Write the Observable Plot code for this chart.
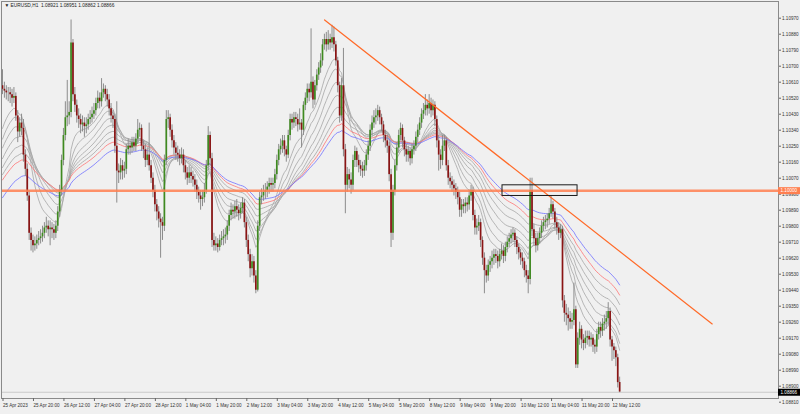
<!DOCTYPE html>
<html><head><meta charset="utf-8">
<script src="https://cdn.jsdelivr.net/npm/d3@7"></script>
<script src="https://cdn.jsdelivr.net/npm/@observablehq/plot@0.6"></script>
<style>
html,body{margin:0;padding:0;background:#f0f0f0;}
#chart{width:800px;height:414px;}
</style></head><body><div id="chart"></div>
<script>
// ---- data ----
const titleText = "\u25BC EURUSD,H1  1.08921 1.08951 1.08862 1.08866";
const firstOpen = 1.1059;
const lastOpen = 1.08921;
const closes = [
1.1057,1.1056,1.1055,1.1055,1.1054,1.1052,1.1053,1.1042,1.1033,1.1038,
1.1035,1.1020,1.1012,1.0997,1.0976,1.0972,1.0969,1.0970,1.0972,1.0973,
1.0974,1.0976,1.0979,1.0980,1.0978,1.0979,1.0978,1.0976,1.0980,1.0988,
1.1000,1.1017,1.1031,1.1041,1.1042,1.1044,1.1083,1.1054,1.1048,1.1042,
1.1040,1.1037,1.1038,1.1036,1.1037,1.1040,1.1041,1.1043,1.1045,1.1049,
1.1052,1.1050,1.1055,1.1057,1.1054,1.1051,1.1046,1.1042,1.1040,1.1025,
1.1011,1.1010,1.1014,1.1011,1.1012,1.1023,1.1025,1.1024,1.1027,1.1025,
1.1029,1.1034,1.1035,1.1025,1.1023,1.1017,1.1020,1.1014,1.1007,1.1000,
1.0992,1.0988,1.0984,1.0982,1.0980,1.1017,1.1040,1.1041,1.1034,1.1028,
1.1024,1.1021,1.1020,1.1018,1.1020,1.1014,1.1010,1.1007,1.1010,1.1008,
1.1006,1.1003,1.0999,1.0997,1.0995,1.0996,1.1000,1.1014,1.1031,1.1018,
1.0972,1.0969,1.0970,1.0968,1.0972,1.0973,1.0974,1.0975,1.0980,1.0986,
1.0989,1.0988,1.0991,1.0989,1.0987,1.0990,1.0993,1.0982,1.0972,1.0964,
1.0956,1.0960,1.0952,1.0944,1.0980,1.0996,1.0997,1.0999,1.1000,1.1002,
1.1004,1.1003,1.1004,1.1009,1.1017,1.1023,1.1025,1.1028,1.1023,1.1020,
1.1031,1.1040,1.1038,1.1041,1.1040,1.1037,1.1038,1.1034,1.1048,1.1052,
1.1057,1.1055,1.1061,1.1051,1.1059,1.1065,1.1069,1.1073,1.1082,1.1085,
1.1082,1.1085,1.1083,1.1086,1.1082,1.1073,1.1059,1.1042,1.1059,1.1023,
1.1003,1.1009,1.1006,1.1003,1.1017,1.1022,1.1017,1.1014,1.1012,1.1011,
1.1014,1.1020,1.1025,1.1034,1.1038,1.1041,1.1042,1.1045,1.1041,1.1037,
1.1031,1.1028,1.1025,1.1009,1.0976,1.1000,1.1014,1.1024,1.1031,1.1035,
1.1028,1.1023,1.1020,1.1022,1.1018,1.1023,1.1025,1.1030,1.1034,1.1038,
1.1043,1.1045,1.1048,1.1046,1.1049,1.1045,1.1048,1.1040,1.1028,1.1020,
1.1017,1.1025,1.1028,1.1014,1.1007,1.1005,1.1003,1.1001,1.0999,1.0996,
1.0989,1.0992,1.0991,1.0993,1.0992,1.0997,1.1000,1.0986,1.0979,1.0980,
1.0982,1.0972,1.0962,1.0955,1.0952,1.0958,1.0960,1.0962,1.0964,1.0963,
1.0960,1.0964,1.0966,1.0963,1.0968,1.0971,1.0973,1.0975,1.0976,1.0972,
1.0968,1.0965,1.0962,1.0960,1.0955,1.0952,1.0950,1.1000,1.0978,1.0973,
1.0969,1.0973,1.0976,1.0980,1.0982,1.0983,1.0984,1.0987,1.0992,1.0988,
1.0982,1.0979,1.0976,1.0978,1.0938,1.0931,1.0930,1.0928,1.0926,1.0927,
1.0933,1.0902,1.0917,1.0922,1.0916,1.0914,1.0917,1.0918,1.0916,1.0917,
1.0913,1.0912,1.0919,1.0923,1.0921,1.0925,1.0926,1.0928,1.0932,1.0916,
1.0912,1.0910,1.0906,1.0892,1.08866];
const highs = [
1.1068,1.1061,1.1059,1.1058,1.1058,1.1057,1.1058,1.1055,1.1045,1.1041,
1.1043,1.1040,1.1023,1.1015,1.1000,1.0979,1.0975,1.0974,1.0975,1.0977,
1.0978,1.0980,1.0982,1.0985,1.0983,1.0983,1.0982,1.0981,1.0983,1.0991,
1.1003,1.1020,1.1035,1.1050,1.1062,1.1050,1.1096,1.1085,1.1058,1.1051,
1.1046,1.1043,1.1042,1.1041,1.1041,1.1043,1.1045,1.1047,1.1049,1.1052,
1.1056,1.1055,1.1063,1.1060,1.1059,1.1057,1.1054,1.1049,1.1045,1.1043,
1.1050,1.1015,1.1018,1.1017,1.1016,1.1026,1.1029,1.1028,1.1030,1.1030,
1.1032,1.1040,1.1038,1.1037,1.1028,1.1026,1.1024,1.1038,1.1017,1.1010,
1.1003,1.0995,1.0991,1.0987,1.0985,1.1020,1.1045,1.1045,1.1043,1.1037,
1.1031,1.1027,1.1025,1.1023,1.1024,1.1023,1.1017,1.1013,1.1014,1.1013,
1.1011,1.1009,1.1006,1.1002,1.1000,1.1000,1.1004,1.1017,1.1036,1.1033,
1.1021,1.0976,1.0974,1.0973,1.0975,1.0977,1.0978,1.0979,1.0983,1.0989,
1.0993,1.0992,1.0994,1.0995,1.0992,1.0993,1.0996,1.0995,1.0985,1.0975,
1.0967,1.0964,1.0963,1.0955,1.0983,1.0999,1.1001,1.1003,1.1004,1.1005,
1.1007,1.1007,1.1007,1.1012,1.1020,1.1026,1.1029,1.1031,1.1031,1.1025,
1.1034,1.1043,1.1043,1.1044,1.1044,1.1043,1.1046,1.1040,1.1050,1.1055,
1.1060,1.1060,1.1091,1.1064,1.1062,1.1068,1.1072,1.1077,1.1085,1.1088,
1.1089,1.1090,1.1088,1.1093,1.1092,1.1084,1.1075,1.1061,1.1063,1.1080,
1.1026,1.1013,1.1012,1.1010,1.1020,1.1025,1.1024,1.1020,1.1017,1.1016,
1.1017,1.1023,1.1028,1.1037,1.1042,1.1045,1.1046,1.1048,1.1047,1.1043,
1.1039,1.1034,1.1031,1.1027,1.1012,1.1003,1.1017,1.1027,1.1034,1.1038,
1.1037,1.1030,1.1026,1.1025,1.1024,1.1026,1.1028,1.1033,1.1037,1.1041,
1.1046,1.1049,1.1054,1.1051,1.1054,1.1052,1.1051,1.1050,1.1042,1.1031,
1.1023,1.1031,1.1031,1.1030,1.1017,1.1010,1.1008,1.1006,1.1004,1.1002,
1.0999,1.0995,1.0995,1.0996,1.0996,1.1000,1.1003,1.1002,1.0989,1.0984,
1.0986,1.0984,1.0974,1.0965,1.0958,1.0961,1.0963,1.0966,1.0967,1.0967,
1.0966,1.0967,1.0970,1.0969,1.0971,1.0974,1.0976,1.0978,1.0979,1.0978,
1.0974,1.0970,1.0967,1.0965,1.0962,1.0958,1.0955,1.1007,1.1007,1.0981,
1.0976,1.0976,1.0979,1.0983,1.0985,1.0986,1.0987,1.0990,1.0997,1.0994,
1.0990,1.0985,1.0982,1.0981,1.0980,1.0941,1.0936,1.0934,1.0932,1.0931,
1.0948,1.0935,1.0920,1.0926,1.0924,1.0919,1.0921,1.0921,1.0921,1.0920,
1.0919,1.0916,1.0922,1.0926,1.0926,1.0928,1.0930,1.0932,1.0937,1.0934,
1.0918,1.0914,1.0912,1.0908,1.08951];
const lows = [
1.1054,1.1052,1.1051,1.1050,1.1049,1.1047,1.1049,1.1039,1.1027,1.1030,
1.1031,1.1016,1.1008,1.0994,1.0972,1.0966,1.0965,1.0966,1.0967,1.0969,
1.0970,1.0971,1.0973,1.0976,1.0974,1.0969,1.0973,1.0972,1.0973,1.0977,
1.0985,1.0997,1.1014,1.1028,1.1036,1.1037,1.1041,1.1050,1.1044,1.1038,
1.1035,1.1032,1.1033,1.1030,1.1032,1.1034,1.1037,1.1038,1.1040,1.1042,
1.1046,1.1046,1.1047,1.1052,1.1050,1.1047,1.1042,1.1038,1.1035,1.1021,
1.0993,1.1004,1.1006,1.1006,1.1007,1.1009,1.1020,1.1020,1.1021,1.1022,
1.1022,1.1026,1.1030,1.1022,1.1018,1.1013,1.1014,1.1011,1.1004,1.0996,
1.0988,1.0983,1.0979,1.0962,1.0972,1.0977,1.1014,1.1035,1.1030,1.1024,
1.1020,1.1017,1.1016,1.1014,1.1015,1.1010,1.1006,1.1003,1.1004,1.1004,
1.1002,1.0999,1.0995,1.0993,1.0989,1.0991,1.0993,1.0998,1.1011,1.1014,
1.0968,1.0966,1.0966,1.0965,1.0966,1.0969,1.0969,1.0970,1.0972,1.0977,
1.0983,1.0984,1.0984,1.0985,1.0983,1.0984,1.0987,1.0979,1.0968,1.0960,
1.0951,1.0952,1.0948,1.0942,1.0943,1.0977,1.0992,1.0994,1.0995,1.0996,
1.0998,1.0999,1.0999,1.1001,1.1006,1.1014,1.1020,1.1021,1.1019,1.1016,
1.1018,1.1028,1.1034,1.1035,1.1036,1.1033,1.1034,1.1024,1.1031,1.1045,
1.1049,1.1050,1.1052,1.1046,1.1048,1.1056,1.1062,1.1066,1.1070,1.1079,
1.1078,1.1079,1.1079,1.1080,1.1078,1.1070,1.1055,1.1038,1.1039,1.1019,
1.0987,1.0999,1.1001,1.0998,1.1000,1.1013,1.1013,1.1010,1.1008,1.1007,
1.1008,1.1011,1.1017,1.1022,1.1031,1.1035,1.1037,1.1039,1.1037,1.1033,
1.1027,1.1024,1.1021,1.1005,1.0968,1.0972,1.0997,1.1011,1.1021,1.1028,
1.1024,1.1019,1.1016,1.1016,1.1014,1.1015,1.1020,1.1022,1.1027,1.1031,
1.1035,1.1040,1.1042,1.1042,1.1043,1.1041,1.1042,1.1036,1.1024,1.1011,
1.1012,1.1014,1.1022,1.1011,1.1003,1.1001,1.0999,1.0997,1.0995,1.0992,
1.0985,1.0985,1.0987,1.0987,1.0988,1.0989,1.0994,1.0983,1.0975,1.0975,
1.0977,1.0968,1.0958,1.0942,1.0948,1.0949,1.0954,1.0956,1.0958,1.0959,
1.0956,1.0957,1.0961,1.0959,1.0960,1.0965,1.0968,1.0970,1.0971,1.0968,
1.0964,1.0961,1.0958,1.0956,1.0951,1.0948,1.0942,1.0947,1.0974,1.0969,
1.0965,1.0966,1.0970,1.0973,1.0977,1.0978,1.0979,1.0981,1.0985,1.0984,
1.0978,1.0975,1.0972,1.0973,1.0934,1.0926,1.0924,1.0921,1.0922,1.0922,
1.0924,1.0900,1.0900,1.0913,1.0911,1.0910,1.0911,1.0913,1.0912,1.0912,
1.0909,1.0908,1.0909,1.0916,1.0917,1.0918,1.0921,1.0922,1.0924,1.0912,
1.0904,1.0905,1.0901,1.0889,1.08862];

const xTickBars = [0,16,32,48,64,80,96,112,128,144,160,176,192,208,224,240,256,272,288,304,320];
const xTickLabels = ["25 Apr 2023","25 Apr 20:00","26 Apr 12:00","27 Apr 04:00","27 Apr 20:00","28 Apr 12:00",
  "1 May 04:00","1 May 20:00","2 May 12:00","3 May 04:00","3 May 20:00","4 May 12:00","5 May 04:00","5 May 20:00",
  "8 May 12:00","9 May 04:00","9 May 20:00","10 May 12:00","11 May 04:00","11 May 20:00","12 May 12:00"];
const yTicks = [1.08810,1.08900,1.08990,1.09080,1.09170,1.09260,1.09350,1.09440,1.09530,1.09620,1.09710,1.09800,
  1.09890,1.09980,1.10070,1.10160,1.10250,1.10340,1.10430,1.10520,1.10610,1.10700,1.10790,1.10880,1.10970];

const hLevel = 1.10000;
const trendBars = [169.1, 372.6];
const trendPrices = [1.1096, 1.0925];
const boxBars = [262.5, 301.9];
const boxPrices = [1.0997, 1.1003];

// moving averages: period, value at first bar, colour
const maPeriods = [13, 18, 25, 33, 42, 52, 62, 74];
const maStart   = [1.1035, 1.1029, 1.1024, 1.1018, 1.1013, 1.1009, 1.1006, 1.0996];
const maColors  = ["#a6a6a6","#a6a6a6","#a6a6a6","#a6a6a6","#a6a6a6","#a6a6a6","#ff7474","#7070ff"];

// ---- build ----
const bars = closes.map((c, i) => ({
  i, c, h: highs[i], l: lows[i],
  o: i === 0 ? firstOpen : (i === closes.length - 1 ? lastOpen : closes[i - 1])
}));
const maData = [];
maPeriods.forEach((p, k) => {
  const a = 2 / (p + 1);
  let e = maStart[k];
  closes.forEach((c, i) => {
    if (i > 0) e = e + a * (c - e);
    maData.push({k, i, v: e});
  });
});
const lastClose = closes[closes.length - 1];
const xDomain = [-0.525, 407.4];
const yDomain = [1.088308, 1.110639];
const pxPerBar = 777 / (xDomain[1] - xDomain[0]);
const labelEnd = xDomain[1] + 22 / pxPerBar;
const fmt5 = d => d.toFixed(5);
const font = "Liberation Sans";

const chart = Plot.plot({
  width: 800, height: 414,
  marginTop: 1, marginRight: 22, marginBottom: 16, marginLeft: 1,
  style: {background: "#f0f0f0", color: "#333", fontFamily: font, overflow: "visible"},
  x: {type: "linear", domain: xDomain},
  y: {type: "linear", domain: yDomain},
  marks: [
    Plot.line(maData, {x: "i", y: "v", z: "k", stroke: d => maColors[d.k], strokeWidth: 0.8}),
    Plot.ruleX(bars, {x: "i", y1: "l", y2: "h", stroke: "#8c8c8c", strokeWidth: 1}),
    Plot.ruleX(bars, {x: "i", y1: "o", y2: "c", stroke: d => d.c >= d.o ? "#3f8a20" : "#8a1414", strokeWidth: 1.7}),
    Plot.ruleY([lastClose], {stroke: "#c9c9c9", strokeWidth: 1}),
    Plot.ruleY([hLevel], {stroke: "#ff7f50", strokeWidth: 2.5, strokeOpacity: 0.85}),
    Plot.line(trendBars.map((b, j) => ({b, p: trendPrices[j]})), {x: "b", y: "p", stroke: "#ff6a28", strokeWidth: 1.2}),
    Plot.rect([{x1: boxBars[0], x2: boxBars[1], y1: boxPrices[0], y2: boxPrices[1]}], {x1: "x1", x2: "x2", y1: "y1", y2: "y2", fill: "none", stroke: "#1a1a1a", strokeWidth: 1}),
    Plot.frame({stroke: "#8a8a8a", strokeWidth: 1}),
    Plot.axisY(yTicks, {anchor: "right", tickSize: 2, tickPadding: 1.5, tickFormat: fmt5, fontSize: 4.6, stroke: "#666"}),
    Plot.axisX(xTickBars, {anchor: "bottom", tickSize: 3, tickPadding: 2.5, fontSize: 4.6, textAnchor: "start", dx: 0.5,
      tickFormat: d => xTickLabels[xTickBars.indexOf(d)], stroke: "#666"}),
    Plot.ruleY([hLevel], {x1: xDomain[1], x2: labelEnd, stroke: "#ff7f50", strokeWidth: 7}),
    Plot.text([hLevel], {x: xDomain[1], y: d => d, text: fmt5, dx: 2, textAnchor: "start", fill: "white", fontSize: 4.6}),
    Plot.ruleY([lastClose], {x1: xDomain[1], x2: labelEnd, stroke: "#000", strokeWidth: 7}),
    Plot.text([lastClose], {x: xDomain[1], y: d => d, text: fmt5, dx: 2, textAnchor: "start", fill: "white", fontSize: 4.6}),
    Plot.text([titleText], {frameAnchor: "top-left", dx: 3, dy: 2, lineAnchor: "top", textAnchor: "start", fontSize: 4.8, fill: "#222"})
  ]
});
document.getElementById("chart").append(chart);
</script>
</body></html>
